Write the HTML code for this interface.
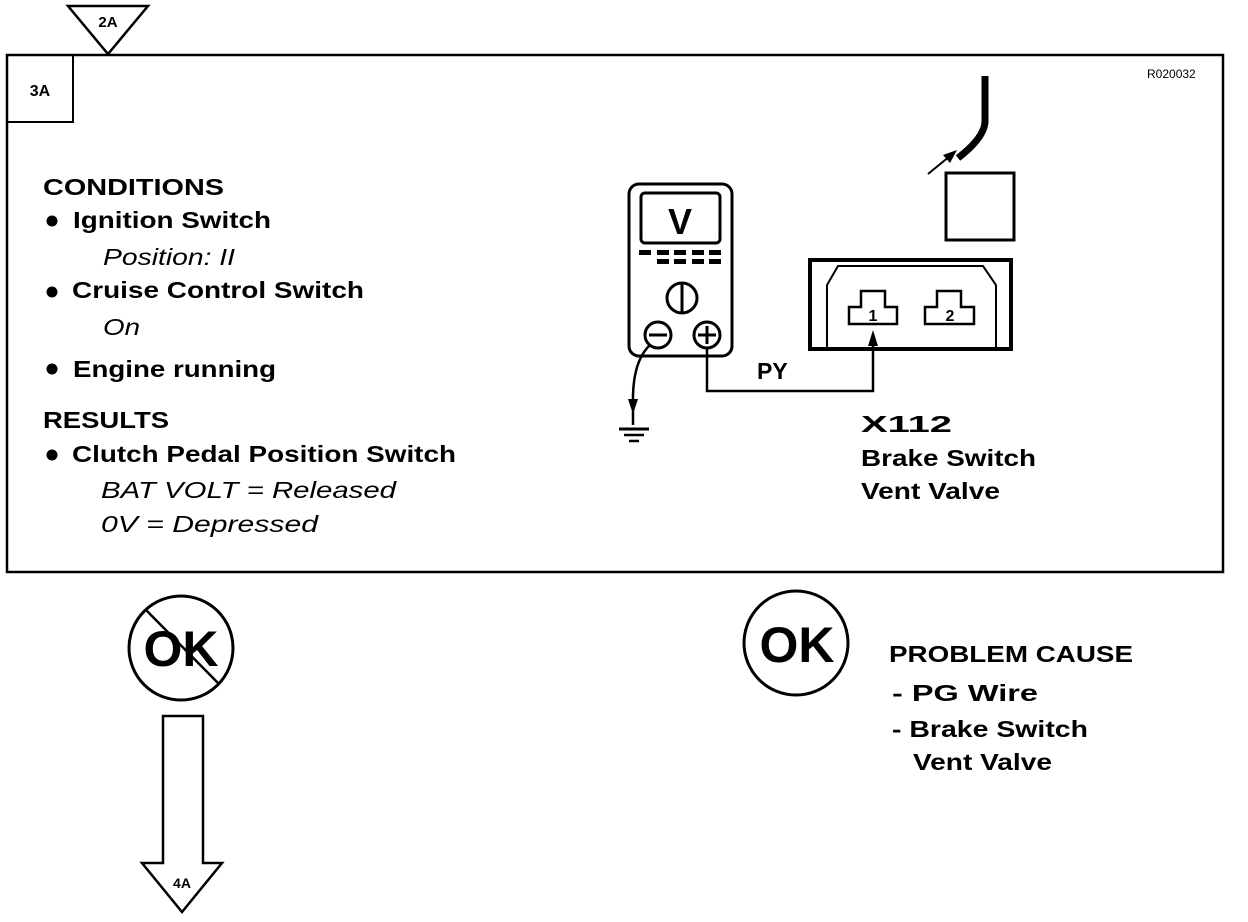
<!DOCTYPE html>
<html><head><meta charset="utf-8"><style>body{margin:0;background:#fff}svg{display:block}</style></head>
<body>
<svg width="1248" height="922" viewBox="0 0 1248 922" xmlns="http://www.w3.org/2000/svg" font-family="Liberation Sans, Arial, sans-serif">
<rect x="7" y="55" width="1216" height="517" fill="none" stroke="#000" stroke-width="2.5"/>
<rect x="7" y="55" width="66" height="67" fill="none" stroke="#000" stroke-width="2"/>
<text x="40" y="96" font-size="16" font-weight="bold" text-anchor="middle">3A</text>
<polygon points="68,6 148,6 108,54" fill="#fff" stroke="#000" stroke-width="2.5"/>
<text x="108" y="27" font-size="15" font-weight="bold" text-anchor="middle">2A</text>
<text x="1147" y="78" font-size="12">R020032</text>

<g font-size="23" font-weight="bold">
<text x="43" y="195" textLength="181" lengthAdjust="spacingAndGlyphs">CONDITIONS</text>
<text x="73" y="228" textLength="198" lengthAdjust="spacingAndGlyphs">Ignition Switch</text>
<text x="72" y="298" textLength="292" lengthAdjust="spacingAndGlyphs">Cruise Control Switch</text>
<text x="73" y="377" textLength="203" lengthAdjust="spacingAndGlyphs">Engine running</text>
<text x="43" y="428" textLength="126" lengthAdjust="spacingAndGlyphs">RESULTS</text>
<text x="72" y="462" textLength="384" lengthAdjust="spacingAndGlyphs">Clutch Pedal Position Switch</text>
</g>
<g fill="#000"><circle cx="52" cy="221" r="5.5"/><circle cx="52" cy="292" r="5.5"/><circle cx="52" cy="369" r="5.5"/><circle cx="52" cy="455" r="5.5"/></g>
<g font-size="23" font-style="italic">
<text x="103" y="265" textLength="132" lengthAdjust="spacingAndGlyphs">Position: II</text>
<text x="103" y="335" textLength="37" lengthAdjust="spacingAndGlyphs">On</text>
<text x="101" y="498" textLength="295" lengthAdjust="spacingAndGlyphs">BAT VOLT =   Released</text>
<text x="101" y="532" textLength="217" lengthAdjust="spacingAndGlyphs">0V =  Depressed</text>
</g>

<!-- meter -->
<rect x="629" y="184" width="103" height="172" rx="10" fill="none" stroke="#000" stroke-width="3"/>
<rect x="641" y="193" width="79" height="50" rx="4" fill="none" stroke="#000" stroke-width="3"/>
<text x="680" y="234" font-size="36" font-weight="bold" text-anchor="middle">V</text>
<g fill="#000">
<rect x="639" y="250" width="12" height="5"/><rect x="657" y="250" width="12" height="5"/><rect x="674" y="250" width="12" height="5"/><rect x="692" y="250" width="12" height="5"/><rect x="709" y="250" width="12" height="5"/>
<rect x="657" y="259" width="12" height="5"/><rect x="674" y="259" width="12" height="5"/><rect x="692" y="259" width="12" height="5"/><rect x="709" y="259" width="12" height="5"/>
</g>
<circle cx="682" cy="298" r="15" fill="none" stroke="#000" stroke-width="3"/>
<line x1="682" y1="284" x2="682" y2="312" stroke="#000" stroke-width="3"/>
<circle cx="658" cy="335" r="13" fill="none" stroke="#000" stroke-width="3"/>
<line x1="649" y1="335" x2="667" y2="335" stroke="#000" stroke-width="3"/>
<circle cx="707" cy="335" r="13" fill="none" stroke="#000" stroke-width="3"/>
<line x1="698" y1="335" x2="716" y2="335" stroke="#000" stroke-width="3"/>
<line x1="707" y1="326" x2="707" y2="344" stroke="#000" stroke-width="3"/>
<!-- wires -->
<polyline points="707,348 707,391 873,391 873,340" fill="none" stroke="#000" stroke-width="2.5"/>
<polygon points="873,330 868,346 878,346" fill="#000"/>
<path d="M650,345 Q634,360 633,395 L633,425" fill="none" stroke="#000" stroke-width="2.5"/>
<polygon points="633,414 628,399 638,399" fill="#000"/>
<line x1="619" y1="429" x2="649" y2="429" stroke="#000" stroke-width="3"/>
<line x1="624" y1="435" x2="644" y2="435" stroke="#000" stroke-width="2.5"/>
<line x1="629" y1="441" x2="639" y2="441" stroke="#000" stroke-width="2.5"/>
<text x="757" y="379" font-size="23" font-weight="bold">PY</text>

<!-- connector -->
<rect x="810" y="260" width="201" height="89" fill="none" stroke="#000" stroke-width="4"/>
<polyline points="827,348 827,285 838,266 983,266 996,285 996,348" fill="none" stroke="#000" stroke-width="2"/>
<polygon points="849,307 861,307 861,291 885,291 885,307 897,307 897,324 849,324" fill="none" stroke="#000" stroke-width="2.5"/>
<text x="873" y="321" font-size="16" font-weight="bold" text-anchor="middle">1</text>
<polygon points="925,307 937,307 937,291 961,291 961,307 974,307 974,324 925,324" fill="none" stroke="#000" stroke-width="2.5"/>
<text x="950" y="321" font-size="16" font-weight="bold" text-anchor="middle">2</text>

<rect x="946" y="173" width="68" height="67" fill="none" stroke="#000" stroke-width="3"/>
<path d="M985,76 L985,122 Q984,138 958,158" fill="none" stroke="#000" stroke-width="7"/>
<line x1="928" y1="174" x2="950" y2="156" stroke="#000" stroke-width="2"/>
<polygon points="957,150 943,155 950,163" fill="#000"/>

<g font-size="23" font-weight="bold">
<text x="861" y="432" textLength="91" lengthAdjust="spacingAndGlyphs">X112</text>
<text x="861" y="466" textLength="175" lengthAdjust="spacingAndGlyphs">Brake Switch</text>
<text x="861" y="499" textLength="139" lengthAdjust="spacingAndGlyphs">Vent Valve</text>
</g>

<!-- OK circles -->
<circle cx="181" cy="648" r="52" fill="none" stroke="#000" stroke-width="3"/>
<text x="181" y="666" font-size="50" font-weight="bold" text-anchor="middle">OK</text>
<line x1="146" y1="610" x2="218" y2="683" stroke="#000" stroke-width="2.5"/>
<circle cx="796" cy="643" r="52" fill="none" stroke="#000" stroke-width="3"/>
<text x="797" y="662" font-size="50" font-weight="bold" text-anchor="middle">OK</text>

<g font-size="23" font-weight="bold">
<text x="889" y="662" textLength="244" lengthAdjust="spacingAndGlyphs">PROBLEM CAUSE</text>
<text x="892" y="701" textLength="146" lengthAdjust="spacingAndGlyphs">-  PG   Wire</text>
<text x="892" y="737" textLength="196" lengthAdjust="spacingAndGlyphs">- Brake Switch</text>
<text x="913" y="770" textLength="139" lengthAdjust="spacingAndGlyphs">Vent Valve</text>
</g>

<!-- arrow -->
<polygon points="163,716 203,716 203,863 222,863 182,912 142,863 163,863" fill="#fff" stroke="#000" stroke-width="2.5"/>
<text x="182" y="888" font-size="14" font-weight="bold" text-anchor="middle">4A</text>
</svg>
</body></html>
